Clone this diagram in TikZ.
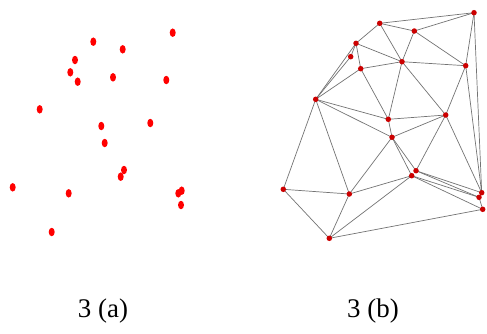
\documentclass[tikz,border=0pt]{standalone}
\usepackage{fontspec}
\setmainfont{Liberation Serif}
\usetikzlibrary{shapes.geometric}
\begin{document}
\begin{tikzpicture}[x=1bp,y=-1bp,
  dota/.style={fill=red,draw=none,ellipse,minimum width=6bp,minimum height=8.5bp,inner sep=0pt},
  dotb/.style={fill=red!80!black,draw=none,circle,minimum size=5.5bp,inner sep=0pt},
  edge/.style={draw=black!55,line width=0.7bp},
  lab/.style={font=\fontsize{27}{32}\selectfont,inner sep=0pt,anchor=base}]
\useasboundingbox (0,0) rectangle (487,333);
% (a) scattered points
\foreach \n/\x/\y in {a1/93.3/41.7,a2/172.7/32.7,a3/122.7/49.3,a4/75/60,a5/70.3/72.3,a6/77.7/81.7,a7/113/77.3,a8/166.3/80,a9/39.7/109.3,a10/101.3/126,a11/150.3/123,a12/104.7/143,a13/124/170,a14/120.7/176.7,a15/12.7/187.3,a16/68.7/193.3,a17/181.7/190.7,a18/178.3/193.3,a19/181/205,a20/51.7/232}
  \node[dota] (\n) at (\x,\y) {};
% (b) triangulation
\foreach \n/\x/\y in {A/379.7/23.3,B/474/12.7,C/414.3/31,D/356/43.3,E/350.7/56.7,F/360.7/68.7,G/402/61.7,H/465.7/65.7,I/315.7/99.3,J/388.3/119.3,K/445.7/115,L/392/137.3,M/416/170.7,N/411.7/175.7,O/283.3/189.3,P/349.3/194,Q/481.7/192.7,R/479/197.3,S/482.7/209.3,T/329.3/238.3}
  \coordinate (\n) at (\x,\y);
\foreach \u/\v in {A/B,A/C,C/B,A/D,A/G,C/G,C/H,B/H,B/Q,H/Q,D/G,D/E,D/F,E/I,D/I,F/G,F/I,F/J,G/H,G/J,G/K,H/K,I/J,I/L,I/O,I/P,J/K,J/L,L/K,L/M,L/N,L/P,K/M,K/Q,M/Q,M/R,N/R,N/S,N/P,O/P,O/T,P/T,T/N,T/S,Q/R,R/S}
  \draw[edge] (\u) -- (\v);
\foreach \n in {A,B,C,D,E,F,G,H,I,J,K,L,M,N,O,P,Q,R,S,T}
  \node[dotb] (d\n) at (\n) {};
\node[lab] (capa) at (103,317) {3 (a)};
\node[lab] (capb) at (373,317) {3 (b)};
\end{tikzpicture}
\end{document}
